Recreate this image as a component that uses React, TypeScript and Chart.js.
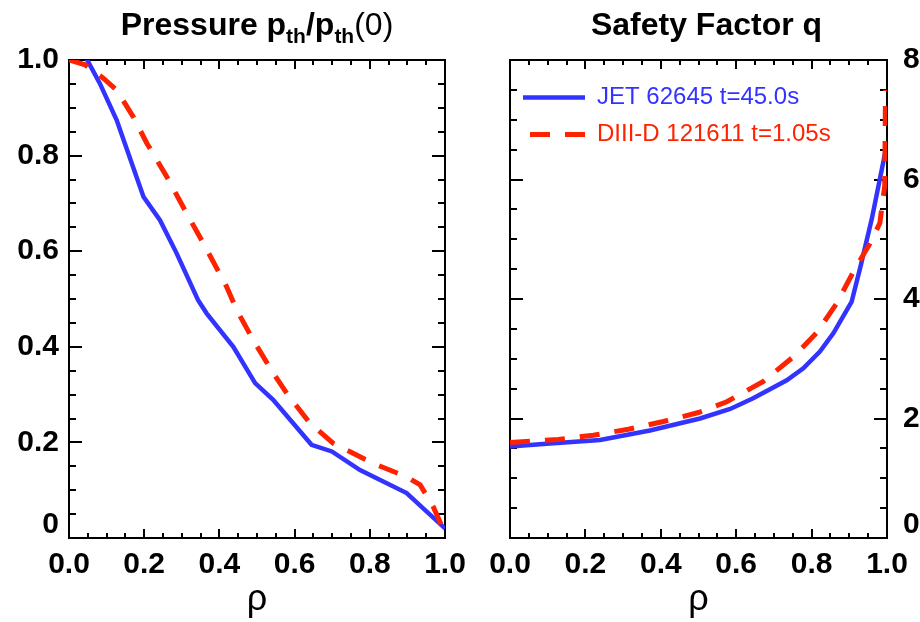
import React, { useEffect, useRef } from 'react';
import { Chart, registerables } from 'chart.js';

Chart.register(...registerables);

const FONT = "'Liberation Sans', Arial, Helvetica, sans-serif";
const BLUE = 'rgb(51,51,255)';
const RED = 'rgb(255,34,0)';
const seriesColors = [BLUE, RED];
const seriesLabels = ['JET 62645 t=45.0s', 'DIII-D 121611 t=1.05s'];
const redDash = [20, 15];

// ---- Pressure panel data ----
const rhoJetP = [0, 0.043, 0.082, 0.127, 0.198, 0.242, 0.286, 0.343, 0.366, 0.437, 0.495, 0.543, 0.645, 0.699, 0.774, 0.898, 1.0];
const pJet = [1.0, 1.008, 0.951, 0.874, 0.714, 0.665, 0.596, 0.498, 0.47, 0.4, 0.324, 0.289, 0.195, 0.181, 0.142, 0.094, 0.02];
const rhoDiiidP = [0, 0.043, 0.091, 0.127, 0.171, 0.207, 0.26, 0.313, 0.357, 0.419, 0.446, 0.49, 0.543, 0.579, 0.641, 0.703, 0.809, 0.898, 0.934, 0.969, 1.0];
const pDiiid = [1.0, 0.99, 0.962, 0.937, 0.881, 0.826, 0.756, 0.679, 0.617, 0.526, 0.477, 0.414, 0.345, 0.303, 0.24, 0.198, 0.156, 0.128, 0.111, 0.065, 0.01];

// ---- Safety factor panel data ----
const rhoJetQ = [0, 0.106, 0.239, 0.371, 0.504, 0.584, 0.645, 0.734, 0.778, 0.822, 0.858, 0.906, 0.93, 0.96, 1.0];
const qJet = [1.53, 1.58, 1.64, 1.8, 2.0, 2.16, 2.34, 2.64, 2.84, 3.12, 3.43, 3.95, 4.55, 5.35, 6.6];
const rhoDiiidQ = [0, 0.128, 0.221, 0.314, 0.407, 0.5, 0.575, 0.672, 0.751, 0.813, 0.867, 0.911, 0.955, 0.981, 0.994, 0.996];
const qDiiid = [1.6, 1.65, 1.72, 1.82, 1.95, 2.1, 2.28, 2.62, 3.03, 3.43, 3.93, 4.46, 4.93, 5.27, 5.9, 7.5];

// ---- Axes ----
const rhoTickValues = [0, 0.2, 0.4, 0.6, 0.8, 1.0];
const rhoTickLabels = ['0.0', '0.2', '0.4', '0.6', '0.8', '1.0'];
const pTickValues = [0, 0.2, 0.4, 0.6, 0.8, 1.0];
const pTickLabels = ['0', '0.2', '0.4', '0.6', '0.8', '1.0'];
const qTickValues = [0, 2, 4, 6, 8];
const qTickLabels = ['0', '2', '4', '6', '8'];
const rhoMinorStep = 0.05;
const pMinorStep = 0.05;
const qMinorStep = 0.5;
const axisTitle = 'ρ';

type Seg = { text: string; sub?: boolean; light?: boolean };
const pressureTitle: Seg[] = [
  { text: 'Pressure p' },
  { text: 'th', sub: true },
  { text: '/p' },
  { text: 'th', sub: true },
  { text: '(0)', light: true },
];
const qTitle: Seg[] = [{ text: 'Safety Factor q' }];

function steps(min: number, max: number, step: number) {
  const out: number[] = [];
  const n = Math.round((max - min) / step);
  for (let i = 0; i <= n; i++) out.push(+(min + i * step).toFixed(6));
  return out;
}

const titlePlugin = {
  id: 'segTitle',
  afterDraw(chart: any, _args: any, opts: any) {
    const segs: Seg[] = opts.segments || [];
    const { ctx, chartArea } = chart;
    ctx.save();
    ctx.fillStyle = '#000';
    ctx.textAlign = 'left';
    ctx.textBaseline = 'alphabetic';
    const fontOf = (s: Seg) => `${s.light ? 'normal' : 'bold'} ${s.sub ? opts.subSize : opts.size}px ${FONT}`;
    let total = 0;
    const widths = segs.map((s) => {
      ctx.font = fontOf(s);
      const w = ctx.measureText(s.text).width;
      total += w;
      return w;
    });
    let x = (chartArea.left + chartArea.right) / 2 + (opts.shift || 0) - total / 2;
    segs.forEach((s, i) => {
      ctx.font = fontOf(s);
      ctx.fillText(s.text, x, opts.baseline + (s.sub ? opts.subDrop : 0));
      x += widths[i];
    });
    ctx.restore();
  },
};

interface AxisSpec {
  axis: 'x' | 'y';
  position: string;
  min: number;
  max: number;
  values: number[];
  labels?: string[];
  tickLen: number;
  size: number;
  weight: number;
  pad?: number;
  title?: string;
  border?: boolean;
}

function makeScale(s: AxisSpec) {
  return {
    type: 'linear',
    axis: s.axis,
    position: s.position,
    min: s.min,
    max: s.max,
    weight: s.weight,
    grid: {
      display: true,
      drawOnChartArea: false,
      drawTicks: true,
      tickLength: -s.tickLen,
      color: '#000',
      lineWidth: 2,
    },
    border: { display: s.border !== false, color: '#000', width: 2 },
    ticks: {
      display: !!s.labels,
      autoSkip: false,
      maxRotation: 0,
      minRotation: 0,
      padding: s.pad ?? 0,
      color: '#000',
      font: { family: FONT, size: 30, weight: 'bold', lineHeight: 0.9 },
      callback: (_v: any, i: number) => {
        if (!s.labels) return '';
        const l = s.labels[i];
        return l === '0' ? ['0', ''] : l;
      },
    },
    title: s.title
      ? {
          display: true,
          text: s.title,
          color: '#000',
          font: { family: FONT, size: 36, weight: 'normal', lineHeight: 1.2 },
          padding: { top: 0, bottom: 0 },
        }
      : { display: false },
    afterBuildTicks: (sc: any) => {
      sc.ticks = s.values.map((v) => ({ value: v }));
    },
    afterFit: (sc: any) => {
      if (s.axis === 'x') sc.height = s.size;
      else sc.width = s.size;
      sc.paddingLeft = 0;
      sc.paddingRight = 0;
      sc.paddingTop = 0;
      sc.paddingBottom = 0;
    },
  };
}

interface PanelSpec {
  rhoA: number[];
  valA: number[];
  rhoB: number[];
  valB: number[];
  yMax: number;
  yMajor: number[];
  yLabels: string[];
  yMinorStep: number;
  labelsLeft: boolean;
  leftSize: number;
  rightSize: number;
  title: Seg[];
  titleShift: number;
  legend: boolean;
}

function buildConfig(p: PanelSpec): any {
  const xMinor = steps(0, 1, rhoMinorStep);
  const yMinor = steps(0, p.yMax, p.yMinorStep);
  const scales: any = {
    x: makeScale({ axis: 'x', position: 'bottom', min: 0, max: 1, values: rhoTickValues, labels: rhoTickLabels, tickLen: 9, size: 84, weight: 1, pad: 22, title: axisTitle }),
    xMinor: makeScale({ axis: 'x', position: 'bottom', min: 0, max: 1, values: xMinor, tickLen: 5, size: 0, weight: 0, border: false }),
    xTop: makeScale({ axis: 'x', position: 'top', min: 0, max: 1, values: rhoTickValues, tickLen: 9, size: 60, weight: 1 }),
    xTopMinor: makeScale({ axis: 'x', position: 'top', min: 0, max: 1, values: xMinor, tickLen: 5, size: 0, weight: 0, border: false }),
    y: makeScale({ axis: 'y', position: 'left', min: 0, max: p.yMax, values: p.yMajor, labels: p.labelsLeft ? p.yLabels : undefined, tickLen: 13, size: p.leftSize, weight: 1, pad: 23 }),
    yMinor: makeScale({ axis: 'y', position: 'left', min: 0, max: p.yMax, values: yMinor, tickLen: 7, size: 0, weight: 0, border: false }),
    yR: makeScale({ axis: 'y', position: 'right', min: 0, max: p.yMax, values: p.yMajor, labels: p.labelsLeft ? undefined : p.yLabels, tickLen: 13, size: p.rightSize, weight: 1, pad: 29 }),
    yRMinor: makeScale({ axis: 'y', position: 'right', min: 0, max: p.yMax, values: yMinor, tickLen: 7, size: 0, weight: 0, border: false }),
  };

  return {
    type: 'line',
    data: {
      datasets: [
        {
          label: seriesLabels[0],
          data: p.rhoA.map((r, i) => ({ x: r, y: p.valA[i] })),
          borderColor: BLUE,
          backgroundColor: BLUE,
          borderWidth: 4.5,
          pointRadius: 0,
          tension: 0,
          fill: false,
          xAxisID: 'x',
          yAxisID: 'y',
          order: 1,
        },
        {
          label: seriesLabels[1],
          data: p.rhoB.map((r, i) => ({ x: r, y: p.valB[i] })),
          borderColor: RED,
          backgroundColor: RED,
          borderWidth: 5,
          borderDash: redDash,
          pointRadius: 0,
          tension: 0,
          fill: false,
          xAxisID: 'x',
          yAxisID: 'y',
          order: 0,
        },
      ],
    },
    options: {
      responsive: false,
      animation: false,
      devicePixelRatio: 1,
      events: [],
      layout: { padding: 0 },
      scales,
      plugins: {
        tooltip: { enabled: false },
        segTitle: { segments: p.title, size: 32, subSize: 21, baseline: 35, subDrop: 8, shift: p.titleShift },
        legend: p.legend
          ? {
              display: true,
              position: 'chartArea',
              align: 'start',
              title: { display: true, text: ' ', padding: { top: 60, bottom: 0 }, font: { size: 12.5, lineHeight: 1 } },
              labels: {
                usePointStyle: true,
                pointStyle: 'line',
                pointStyleWidth: 62,
                padding: 13,
                font: { family: FONT, size: 24, weight: 'normal' },
                sort: (a: any, b: any) => a.datasetIndex - b.datasetIndex,
                generateLabels: (chart: any) =>
                  (Chart.defaults.plugins.legend.labels.generateLabels as any)(chart).map((it: any) => {
                    const ds = chart.data.datasets[it.datasetIndex];
                    return {
                      ...it,
                      fontColor: seriesColors[it.datasetIndex],
                      strokeStyle: ds.borderColor,
                      lineWidth: ds.borderWidth,
                      lineDash: ds.borderDash || [],
                      lineDashOffset: ds.borderDash ? 28 : 0,
                    };
                  }),
              },
            }
          : { display: false },
      },
    },
    plugins: [titlePlugin],
  };
}

function Panel({ spec, left, width }: { spec: PanelSpec; left: number; width: number }) {
  const ref = useRef<HTMLCanvasElement>(null);
  useEffect(() => {
    if (!ref.current) return;
    const chart = new Chart(ref.current, buildConfig(spec));
    return () => chart.destroy();
  }, []);
  return (
    <canvas
      ref={ref}
      width={width}
      height={622}
      style={{ position: 'absolute', left, top: 0, width, height: 622 }}
    />
  );
}

const pressureSpec: PanelSpec = {
  rhoA: rhoJetP,
  valA: pJet,
  rhoB: rhoDiiidP,
  valB: pDiiid,
  yMax: 1,
  yMajor: pTickValues,
  yLabels: pTickLabels,
  yMinorStep: pMinorStep,
  labelsLeft: true,
  leftSize: 69,
  rightSize: 35,
  title: pressureTitle,
  titleShift: 0,
  legend: false,
};

const qSpec: PanelSpec = {
  rhoA: rhoJetQ,
  valA: qJet,
  rhoB: rhoDiiidQ,
  valB: qDiiid,
  yMax: 8,
  yMajor: qTickValues,
  yLabels: qTickLabels,
  yMinorStep: qMinorStep,
  labelsLeft: false,
  leftSize: 50,
  rightSize: 33,
  title: qTitle,
  titleShift: 8,
  legend: true,
};

export default function App() {
  return (
    <div style={{ position: 'absolute', left: 0, top: 0, width: 920, height: 622, background: '#fff', overflow: 'hidden' }}>
      <Panel spec={pressureSpec} left={0} width={480} />
      <Panel spec={qSpec} left={460} width={460} />
    </div>
  );
}
